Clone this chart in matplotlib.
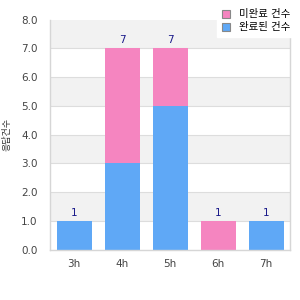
import numpy as np
import matplotlib.pyplot as plt
from matplotlib.patches import Patch

# data
hours = ['3h', '4h', '5h', '6h', '7h']
done = [1, 3, 5, 0, 1]       # blue, bottom
pending = [0, 4, 2, 1, 0]    # pink, on top
legend_labels = ['미완료 건수', '완료된 건수']
y_label = '응답건수'

blue = '#5fa8f6'
pink = '#f585c0'

plt.rcParams['font.family'] = ['DejaVu Sans', 'Noto Sans CJK KR']

fig = plt.figure(figsize=(3, 3), dpi=100)
ax = fig.add_axes([0.167, 0.168, 0.800, 0.767])

# alternating background bands
for lo in range(8):
    if lo % 2 == 1:
        ax.axhspan(lo, lo + 1, color='#f2f2f2', zorder=0, lw=0)
for y in range(1, 8):
    ax.axhline(y, color='#dddddd', lw=0.8, zorder=0.5)

x = np.arange(len(hours))
ax.bar(x, done, width=0.73, color=blue, zorder=2)
ax.bar(x, pending, width=0.73, bottom=done, color=pink, zorder=2)

totals = np.array(done) + np.array(pending)
for xi, t in zip(x, totals):
    ax.annotate(str(t), (xi, t), xytext=(0, 2), textcoords='offset points',
                ha='center', va='bottom', fontsize=7.5, color='#1a1a8a')

ax.set_xlim(-0.5, len(hours) - 0.5)
ax.set_ylim(0, 8)
ax.set_xticks(x)
ax.set_xticklabels(hours)
ax.set_yticks(range(9))
ax.set_yticklabels([f'{v:.1f}' for v in range(9)])
ax.tick_params(length=0, labelsize=7.5, labelcolor='#444444', pad=7)
ax.tick_params(axis='y', pad=9)

ax.spines['top'].set_visible(False)
for s in ['left', 'bottom', 'right']:
    ax.spines[s].set_color('#d6d6d6')
    ax.spines[s].set_linewidth(1)

ax.set_ylabel(y_label, fontsize=6.5, color='#333333', labelpad=7)

handles = [Patch(facecolor=pink, edgecolor='#888888', lw=0.8),
           Patch(facecolor=blue, edgecolor='#888888', lw=0.8)]
leg = fig.legend(handles, legend_labels, loc='upper right',
                 bbox_to_anchor=(1.0, 1.0), fontsize=7.5, frameon=True,
                 handlelength=0.8, handleheight=0.8, handletextpad=0.9,
                 labelspacing=0.3, borderpad=0.4, fancybox=False)
leg.get_frame().set_edgecolor('white')
leg.get_frame().set_facecolor('white')
leg.get_frame().set_alpha(1)

fig.savefig('out.png', dpi=100)
